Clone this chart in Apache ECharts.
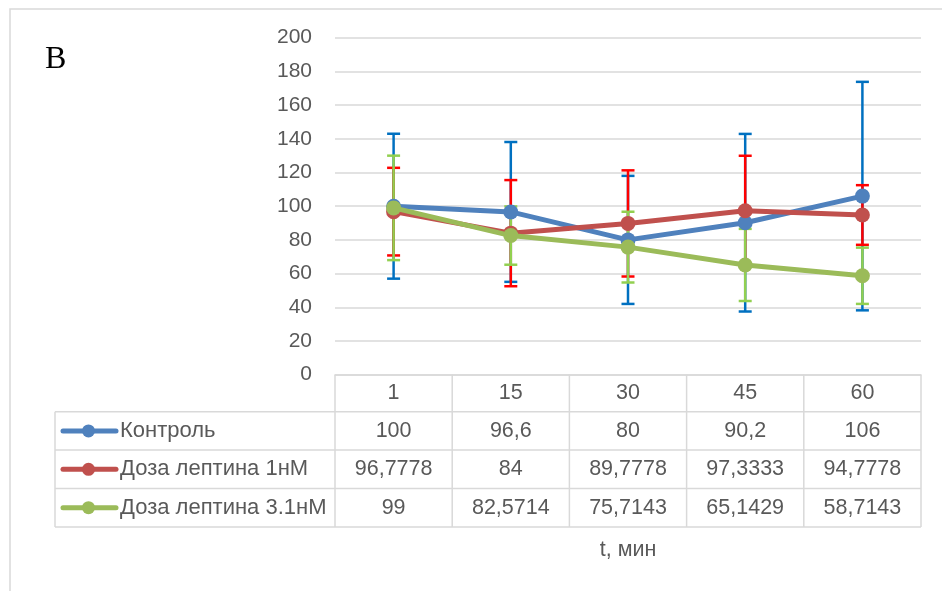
<!DOCTYPE html>
<html>
<head>
<meta charset="utf-8">
<script src="https://cdn.jsdelivr.net/npm/echarts@6/dist/echarts.min.js"></script>
<style>
  html, body { margin: 0; padding: 0; background: #ffffff; }
  #chart { width: 942px; height: 591px; }
</style>
</head>
<body>
<div id="chart"></div>
<script>
// Time points (min)
const categories = ['1', '15', '30', '45', '60'];

// Series means
const seriesNames = ['Контроль', 'Доза лептина 1нМ', 'Доза лептина 3.1нМ'];
const control = [100, 96.6, 80, 90.2, 106];
const dose1 = [96.7778, 84, 89.7778, 97.3333, 94.7778];
const dose31 = [99, 82.5714, 75.7143, 65.1429, 58.7143];

// Symmetric error amounts
const controlErr = [43, 41.5, 38, 52.7, 67.8];
const dose1Err = [26, 31.5, 31.5, 32.6, 17.7];
const dose31Err = [31, 17.3, 21, 21.4, 16.7];

// Y axis ticks
const yMin = 0, yMax = 200, yStep = 20;

const panelLabel = 'В';
const xTitle = 't, мин';

const lineColors = ['#4F81BD', '#C0504D', '#9BBB59'];
const errColors = ['#0070C0', '#FF0000', '#92D050'];
const textColor = '#595959';
const gridColor = '#D9D9D9';
const font = '"Liberation Sans", Arial, sans-serif';
const fontSize = 21;
const tableFontSize = 21.5;
const nameFontSize = 22;

const means = [control, dose1, dose31];
const errs = [controlErr, dose1Err, dose31Err];

const chart = echarts.init(document.getElementById('chart'), null, { renderer: 'canvas' });

function errorSeries(k) {
  const data = means[k].map((m, i) => [i, m - errs[k][i], m + errs[k][i]]);
  return {
    type: 'custom',
    name: seriesNames[k] + ' err',
    z: 1 + k,
    silent: true,
    encode: { x: 0, y: [1, 2] },
    data: data,
    renderItem: function (params, api) {
      const lo = api.coord([api.value(0), api.value(1)]);
      const hi = api.coord([api.value(0), api.value(2)]);
      const half = 6.5;
      const style = { stroke: errColors[k], lineWidth: 2.5 };
      return {
        type: 'group',
        children: [
          { type: 'line', shape: { x1: lo[0], y1: lo[1], x2: hi[0], y2: hi[1] }, style: style },
          { type: 'line', shape: { x1: hi[0] - half, y1: hi[1], x2: hi[0] + half, y2: hi[1] }, style: style },
          { type: 'line', shape: { x1: lo[0] - half, y1: lo[1], x2: lo[0] + half, y2: lo[1] }, style: style }
        ]
      };
    }
  };
}

function lineSeries(k) {
  return {
    type: 'line',
    name: seriesNames[k],
    z: 10 + k,
    data: means[k],
    symbol: 'circle',
    symbolSize: 15,
    lineStyle: { color: lineColors[k], width: 5, cap: 'round', join: 'round' },
    itemStyle: { color: lineColors[k] },
    emphasis: { disabled: true },
    animation: false
  };
}

const option = {
  animation: false,
  grid: { left: 335, right: 21, top: 37.7, bottom: 216.3, containLabel: false },
  xAxis: {
    type: 'category',
    data: categories,
    boundaryGap: true,
    axisLine: { show: true, lineStyle: { color: gridColor, width: 1.5 } },
    axisTick: { show: false },
    axisLabel: { show: false },
    splitLine: { show: false }
  },
  yAxis: {
    type: 'value',
    min: yMin,
    max: yMax,
    interval: yStep,
    axisLine: { show: false },
    axisTick: { show: false },
    axisLabel: { color: textColor, fontSize: fontSize, fontFamily: font, margin: 23 },
    splitLine: { lineStyle: { color: gridColor, width: 1.5 } }
  },
  series: [errorSeries(0), errorSeries(1), errorSeries(2), lineSeries(0), lineSeries(1), lineSeries(2)]
};

chart.setOption(option);

// Data table under the plot, laid out from the category axis positions
function buildTable() {
  const c0 = chart.convertToPixel({ xAxisIndex: 0 }, 0);
  const c1 = chart.convertToPixel({ xAxisIndex: 0 }, 1);
  const band = c1 - c0;
  const centers = categories.map((_, i) => chart.convertToPixel({ xAxisIndex: 0 }, i));
  const colLeft = centers[0] - band / 2;
  const colRight = centers[centers.length - 1] + band / 2;
  const axisY = chart.convertToPixel({ yAxisIndex: 0 }, yMin);
  const headerH = 37;
  const rowH = 38.4;
  const tableLeft = 55;
  const rowTops = [axisY + headerH];
  for (let r = 1; r <= seriesNames.length; r++) rowTops.push(axisY + headerH + rowH * r);
  const tableBottom = rowTops[rowTops.length - 1];

  const lineStyle = { stroke: gridColor, lineWidth: 1.5 };
  const els = [];

  // Outer frame
  els.push({ type: 'rect', shape: { x: 10, y: 9, width: 1200, height: 1200 },
    style: { fill: null, stroke: gridColor, lineWidth: 1.5 }, silent: true });

  // Panel letter
  els.push({ type: 'text', x: 45, y: 60, style: { text: panelLabel, fill: '#000000',
    font: '32px "Liberation Serif", "Times New Roman", serif', verticalAlign: 'middle' } });

  // Header row verticals
  for (let i = 0; i <= categories.length; i++) {
    const x = colLeft + band * i;
    els.push({ type: 'line', shape: { x1: x, y1: axisY, x2: x, y2: tableBottom }, style: lineStyle });
  }
  // Left edge of series rows
  els.push({ type: 'line', shape: { x1: tableLeft, y1: rowTops[0], x2: tableLeft, y2: tableBottom }, style: lineStyle });
  // Horizontal row lines
  rowTops.forEach(y => {
    els.push({ type: 'line', shape: { x1: tableLeft, y1: y, x2: colRight, y2: y }, style: lineStyle });
  });

  // Header labels
  categories.forEach((c, i) => {
    els.push({ type: 'text', x: centers[i], y: axisY + headerH / 2,
      style: { text: c, fill: textColor, font: tableFontSize + 'px ' + font, align: 'center', verticalAlign: 'middle' } });
  });

  // Series rows
  seriesNames.forEach((name, k) => {
    const cy = (rowTops[k] + rowTops[k + 1]) / 2;
    els.push({ type: 'line', shape: { x1: 63, y1: cy, x2: 116, y2: cy },
      style: { stroke: lineColors[k], lineWidth: 5, lineCap: 'round' } });
    els.push({ type: 'circle', shape: { cx: 88.5, cy: cy, r: 6.5 }, style: { fill: lineColors[k] } });
    els.push({ type: 'text', x: 120, y: cy,
      style: { text: name, fill: textColor, font: nameFontSize + 'px ' + font, verticalAlign: 'middle' } });
    means[k].forEach((v, i) => {
      els.push({ type: 'text', x: centers[i], y: cy,
        style: { text: String(v).replace('.', ','), fill: textColor, font: tableFontSize + 'px ' + font,
          align: 'center', verticalAlign: 'middle' } });
    });
  });

  // Axis title
  els.push({ type: 'text', x: (colLeft + colRight) / 2, y: tableBottom + 23,
    style: { text: xTitle, fill: textColor, font: tableFontSize + 'px ' + font, align: 'center', verticalAlign: 'middle' } });

  chart.setOption({ graphic: { elements: els } });
}

buildTable();
</script>
</body>
</html>
